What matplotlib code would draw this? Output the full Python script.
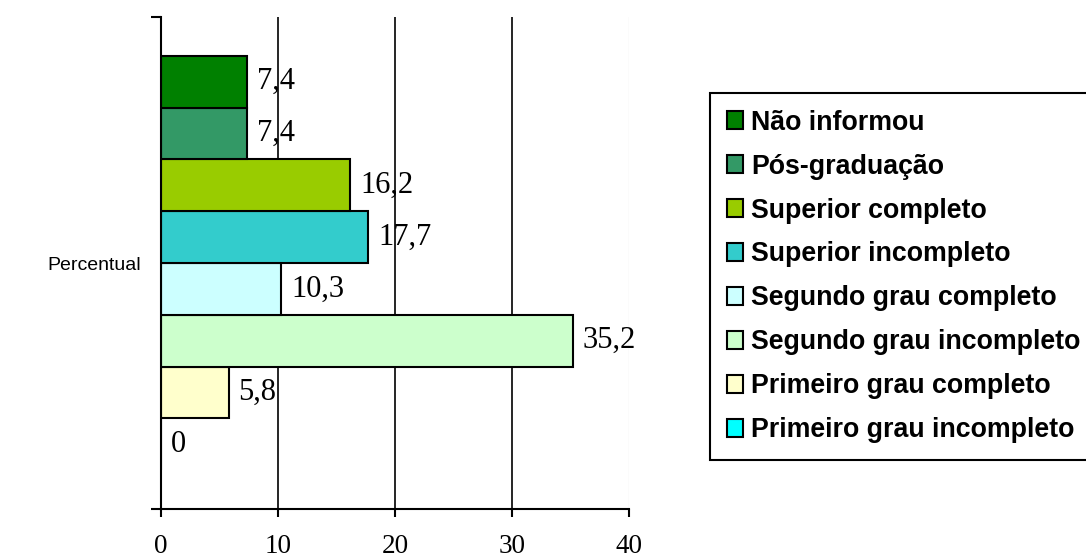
import matplotlib.pyplot as plt
import numpy as np

# series from bottom bar to top bar
series = ["Primeiro grau incompleto", "Primeiro grau completo", "Segundo grau incompleto",
          "Segundo grau completo", "Superior incompleto", "Superior completo",
          "Pós-graduação", "Não informou"]
values = [0, 5.8, 35.2, 10.3, 17.7, 16.2, 7.4, 7.4]
value_labels = ["0", "5,8", "35,2", "10,3", "17,7", "16,2", "7,4", "7,4"]
colors = ["#00FFFF", "#FFFFCC", "#CCFFCC", "#CCFFFF", "#33CCCC", "#99CC00", "#339966", "#008000"]
category = "Percentual"
xticks = [0, 10, 20, 30, 40]

fig = plt.figure(figsize=(10.86, 5.59), dpi=100)
ax = fig.add_axes([0.148, 0.0894, 0.4313, 0.8801])

n = len(series)
offsets = np.arange(n) - (n - 1) / 2  # one bar per series inside the single category
handles = []
for off, val, lab, col, name in zip(offsets, values, value_labels, colors, series):
    b = ax.barh(off, val, height=1.0, color=col, edgecolor="black", linewidth=1.5, zorder=2, label=name)
    handles.append(b)
    ax.text(val + 0.85, off, lab, va="center", ha="left", fontsize=22,
            family="Liberation Serif", zorder=3)

# vertical gridlines
for t in xticks[1:]:
    ax.axvline(t, color="black" if t < 40 else "#C0C0C0", linewidth=1.2 if t < 40 else 0.8, zorder=1)

ax.set_xlim(0, 40)
ax.set_ylim(-4.75, 4.75)

ax.spines["top"].set_visible(False)
ax.spines["right"].set_visible(False)
ax.spines["left"].set_linewidth(1.5)
ax.spines["bottom"].set_linewidth(1.5)

ax.set_xticks(xticks)
ax.set_xticklabels([str(t) for t in xticks], family="Liberation Serif", fontsize=19.5)
ax.tick_params(axis="x", direction="out", length=5.8, width=1.5, pad=12)

ax.set_yticks([-4.75, 4.75])
ax.set_yticklabels(["", ""])
ax.tick_params(axis="y", which="major", direction="out", length=7.2, width=1.5)
ax.set_yticks([0], minor=True)
ax.set_yticklabels([category], minor=True, family="Liberation Sans", fontsize=14)
ax.tick_params(axis="y", which="minor", length=0, pad=14.4)

leg = fig.legend(handles[::-1], series[::-1], loc="upper left",
                 bbox_to_anchor=(710 / 1086, 1 - 93 / 559),
                 prop={"family": "Liberation Sans", "weight": "bold", "size": 19.3},
                 frameon=True, fancybox=False, edgecolor="black", framealpha=1,
                 borderpad=0.62, labelspacing=0.67, handlelength=0.62, handleheight=0.62,
                 handletextpad=0.3, borderaxespad=0)
leg.get_frame().set_linewidth(1.5)

fig.savefig("out.png", dpi=100)
